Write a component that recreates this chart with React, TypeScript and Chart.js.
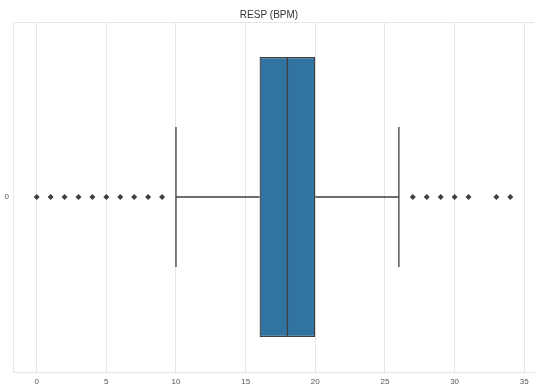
import React, { useEffect, useRef } from "react";
import { Chart, registerables } from "chart.js";

Chart.register(...registerables);

const title = "RESP (BPM)";
const categories = ["0"];
const q1 = [16];
const median = [18];
const q3 = [20];
const whiskerLow = [10];
const whiskerHigh = [26];
const outliers = [0, 1, 2, 3, 4, 5, 6, 7, 8, 9, 27, 28, 29, 30, 31, 33, 34];
const xTicks = [0, 5, 10, 15, 20, 25, 30, 35];
const xMin = -1.7;
const xMax = 35.7;

const BOX_FILL = "#3274a1";
const EDGE = "#3f3f3f";
const GRID = "#e6e6e6";
const FONT = "'Liberation Sans', Arial, sans-serif";

const boxExtras = {
  id: "boxExtras",
  beforeDatasetsDraw(chart: any) {
    const { ctx, chartArea } = chart;
    ctx.save();
    ctx.strokeStyle = GRID;
    ctx.lineWidth = 1;
    ctx.beginPath();
    ctx.moveTo(chartArea.left, chartArea.top + 0.5);
    ctx.lineTo(chartArea.right, chartArea.top + 0.5);
    ctx.stroke();
    ctx.restore();
  },
  afterDatasetsDraw(chart: any) {
    const { ctx } = chart;
    const xs = chart.scales.x;
    const ys = chart.scales.y;
    const meta = chart.getDatasetMeta(0);
    ctx.save();
    ctx.strokeStyle = EDGE;
    ctx.lineWidth = 1.3;
    categories.forEach((c, i) => {
      const el = meta.data[i];
      const cy = ys.getPixelForValue(i);
      const h = el.height;
      const xl = xs.getPixelForValue(whiskerLow[i]);
      const xq1 = xs.getPixelForValue(q1[i]);
      const xq3 = xs.getPixelForValue(q3[i]);
      const xh = xs.getPixelForValue(whiskerHigh[i]);
      const xm = xs.getPixelForValue(median[i]);
      ctx.beginPath();
      ctx.moveTo(xl, cy);
      ctx.lineTo(xq1, cy);
      ctx.moveTo(xq3, cy);
      ctx.lineTo(xh, cy);
      ctx.moveTo(xl, cy - h / 4);
      ctx.lineTo(xl, cy + h / 4);
      ctx.moveTo(xh, cy - h / 4);
      ctx.lineTo(xh, cy + h / 4);
      ctx.moveTo(xm, cy - h / 2);
      ctx.lineTo(xm, cy + h / 2);
      ctx.stroke();
    });
    ctx.restore();
  },
};

export default function App() {
  const ref = useRef<HTMLCanvasElement | null>(null);
  useEffect(() => {
    if (!ref.current) return;
    const chart = new Chart(ref.current, {
      type: "bar",
      data: {
        labels: categories,
        datasets: [
          {
            type: "bar",
            data: categories.map((_, i) => [q1[i], q3[i]]) as any,
            backgroundColor: BOX_FILL,
            borderColor: EDGE,
            borderWidth: 1.3,
            borderSkipped: false,
            barPercentage: 0.8,
            categoryPercentage: 1,
            order: 2,
          },
          {
            type: "scatter",
            data: outliers.map((v) => ({ x: v, y: 0 })) as any,
            pointStyle: "rectRot",
            radius: 3,
            backgroundColor: EDGE,
            borderColor: EDGE,
            borderWidth: 0,
            order: 1,
          } as any,
        ],
      },
      plugins: [boxExtras],
      options: {
        indexAxis: "y",
        responsive: false,
        animation: false,
        devicePixelRatio: 1,
        layout: { padding: 0 },
        plugins: {
          legend: { display: false },
          tooltip: { enabled: false },
          title: {
            display: true,
            text: title,
            color: "#333",
            font: { family: FONT, size: 10, weight: "normal" },
            padding: { top: 9, bottom: 1 },
          },
        },
        scales: {
          x: {
            type: "linear",
            min: xMin,
            max: xMax,
            afterBuildTicks: (s: any) => {
              s.ticks = xTicks.map((v) => ({ value: v }));
            },
            afterFit: (s: any) => {
              s.height = 18;
              s.paddingLeft = 0;
              s.paddingRight = 0;
            },
            grid: { color: GRID, lineWidth: 1, drawTicks: false },
            border: { color: GRID, width: 1 },
            ticks: {
              color: "#555",
              padding: 5,
              maxRotation: 0,
              font: { family: FONT, size: 8 },
            },
          },
          y: {
            type: "category",
            offset: true,
            afterFit: (s: any) => {
              s.width = 13;
              s.paddingTop = 0;
              s.paddingBottom = 0;
            },
            grid: { display: false, drawTicks: false },
            border: { color: GRID, width: 1 },
            ticks: {
              color: "#555",
              padding: 4,
              font: { family: FONT, size: 8 },
            },
          },
        },
      } as any,
    });
    return () => chart.destroy();
  }, []);
  return (
    <div style={{ position: "absolute", left: 0, top: 0, width: 538, height: 390, background: "#fff" }}>
      <canvas ref={ref} width={538} height={390} />
    </div>
  );
}
